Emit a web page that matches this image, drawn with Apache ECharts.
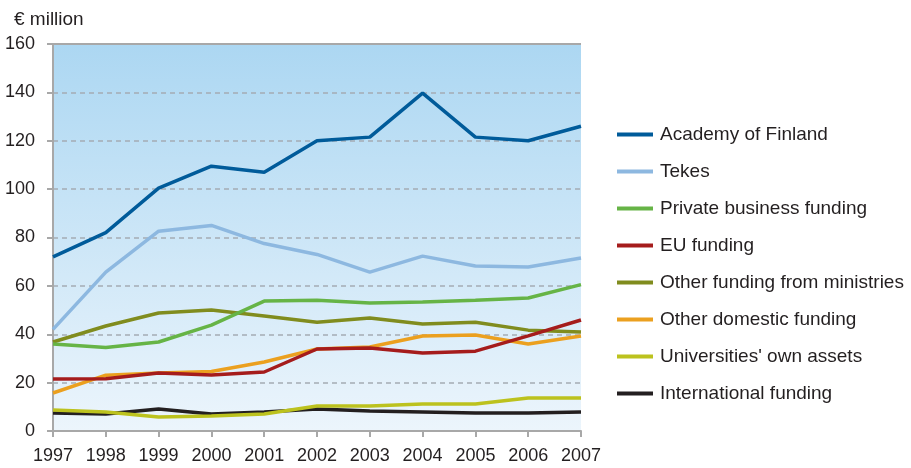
<!DOCTYPE html>
<html><head><meta charset="utf-8">
<script src="https://cdn.jsdelivr.net/npm/echarts@6/dist/echarts.min.js"></script>
<style>html,body{margin:0;padding:0;background:#fff}#c{width:911px;height:468px}</style>
</head><body><div id="c"></div>
<script>
const years = ['1997','1998','1999','2000','2001','2002','2003','2004','2005','2006','2007'];
const seriesNames = ['Academy of Finland','Tekes','Private business funding','EU funding','Other funding from ministries','Other domestic funding',"Universities' own assets",'International funding'];
const academy = [72, 82, 100.4, 109.5, 107, 120, 121.5, 139.7, 121.5, 120, 126];
const tekes = [42, 65.7, 82.6, 85, 77.5, 73, 65.7, 72.3, 68.2, 67.8, 71.5];
const privateBiz = [36, 34.5, 36.8, 43.8, 53.7, 54.1, 52.9, 53.3, 54.1, 55, 60.5];
const eu = [21.5, 21.6, 24, 23.2, 24.4, 33.9, 34.3, 32.2, 33, 39.3, 45.9];
const ministries = [36.8, 43.4, 48.8, 50, 47.5, 45, 46.7, 44.2, 45, 41.7, 40.9];
const domestic = [15.7, 23.1, 24, 24.6, 28.5, 33.9, 34.7, 39.3, 39.7, 36, 39.3];
const universities = [8.7, 7.9, 5.8, 6.2, 7, 10.3, 10.3, 11.2, 11.2, 13.6, 13.6];
const international = [7.4, 7, 9.1, 7, 7.9, 9.1, 8.3, 7.9, 7.4, 7.4, 7.9];
const colors = ['#005b9a','#8db8e0','#66b446','#a51c1c','#808c1e','#eba01f','#bcc21e','#231f20'];
const data = [academy, tekes, privateBiz, eu, ministries, domestic, universities, international];
const yTicks = [0, 20, 40, 60, 80, 100, 120, 140, 160];

const chart = echarts.init(document.getElementById('c'));
const numFont = "'Liberation Sans',sans-serif";
chart.setOption({
  animation: false,
  color: colors,
  title: {text: '€ million', left: 9, top: 5, textStyle: {fontFamily: "'Liberation Sans',sans-serif", fontSize: 19, fontWeight: 'normal', color: '#231f20'}},
  legend: {
    orient: 'vertical', left: 612, top: 120, itemWidth: 36, itemHeight: 14, itemGap: 18,
    data: seriesNames.map((n, i) => ({name: n, icon: 'path://M0,0 L36,0 L36,4 L0,4 Z', itemStyle: {color: colors[i]}})),
    textStyle: {fontFamily: "'Liberation Sans',sans-serif", fontSize: 19, color: '#231f20', padding: [0,0,0,2]}
  },
  grid: {left: 53, right: 330, top: 44, bottom: 37, show: true, borderWidth: 0,
    backgroundColor: new echarts.graphic.LinearGradient(0, 0, 0, 1, [{offset: 0, color: '#acd7f2'}, {offset: 1, color: '#ecf5fc'}])},
  xAxis: {
    type: 'category', data: years, boundaryGap: false,
    axisLine: {lineStyle: {color: '#a8a8a8', width: 2}},
    axisTick: {show: true, length: 6, interval: 0, lineStyle: {color: '#a8a8a8', width: 2}},
    axisLabel: {fontFamily: numFont, fontSize: 18, color: '#231f20', margin: 16, interval: 0},
    splitLine: {show: false}
  },
  yAxis: {
    type: 'value', min: yTicks[0], max: yTicks[yTicks.length-1], interval: 20,
    axisLine: {show: true, lineStyle: {color: '#a8a8a8', width: 2}},
    axisTick: {show: true, length: 6, inside: false, lineStyle: {color: '#a8a8a8', width: 2}},
    axisLabel: {fontFamily: numFont, fontSize: 18, color: '#231f20', margin: 18},
    splitLine: {show: true, lineStyle: {color: '#a4acb4', type: [5, 4], width: 1.5}}
  },
  series: seriesNames.map((n, i) => ({
    name: n, type: 'line', data: data[i], symbol: 'none',
    lineStyle: {width: 3.5, color: colors[i]}, z: 10 - i
  })).concat([{
    type: 'line', data: [], markLine: {silent: true, symbol: 'none', label: {show: false},
      lineStyle: {color: '#a8a8a8', type: 'solid', width: 2}, data: [{yAxis: 160}]}
  }])
});
</script></body></html>
